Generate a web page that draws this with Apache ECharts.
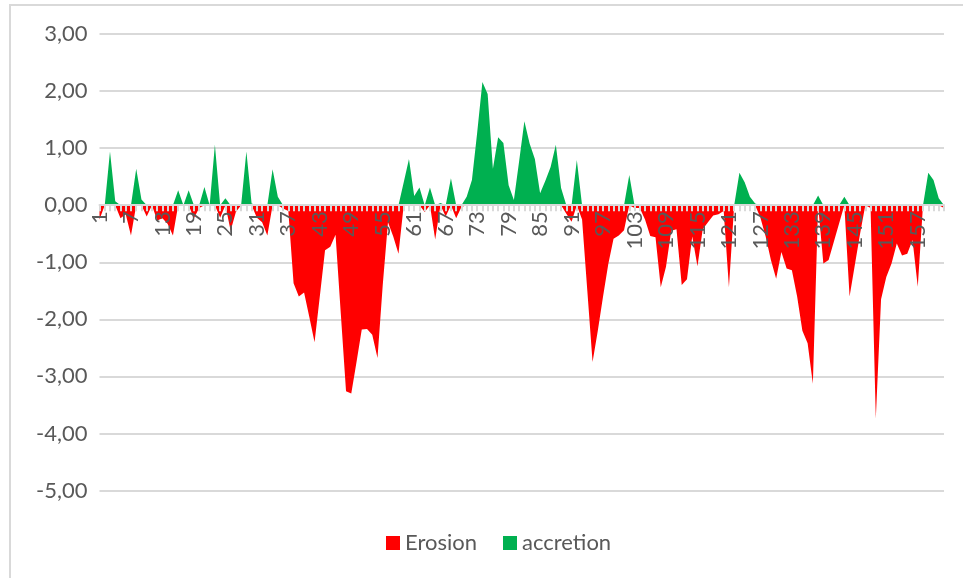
<!DOCTYPE html>
<html>
<head>
<meta charset="utf-8">
<script src="https://cdn.jsdelivr.net/npm/echarts@6/dist/echarts.min.js"></script>
<style>
  html, body { margin: 0; padding: 0; background: #ffffff; }
  #chart { width: 963px; height: 578px; }
</style>
</head>
<body>
<div id="chart"></div>
<script>
// Profile stations 1..162
const stationCount = 162;
const categories = Array.from({ length: stationCount }, (_, k) => String(k + 1));

// Erosion per station (negative values)
const erosion = [
  -0.25, 0, 0, 0, -0.23, -0.16, -0.53, 0, 0, -0.2,
  0, -0.27, -0.23, -0.33, -0.53, 0, 0, 0, -0.23, -0.05,
  0, 0, 0, -0.22, 0, -0.45, -0.12, 0, 0, 0,
  -0.22, -0.3, -0.53, 0, 0, -0.06, -0.1, -1.37, -1.6, -1.53,
  -1.96, -2.4, -1.6, -0.79, -0.73, -0.52, -1.9, -3.26, -3.3, -2.75,
  -2.18, -2.17, -2.27, -2.68, -1.4, -0.3, -0.55, -0.85, 0, 0,
  0, 0, -0.12, 0, -0.6, 0, -0.2, 0, -0.23, -0.03,
  0, 0, 0, 0, 0, 0, 0, 0, 0, 0,
  0, 0, 0, 0, 0, 0, 0, 0, 0, -0.15,
  -0.29, 0, -0.25, -1.5, -2.75, -2.2, -1.6, -1.03, -0.59, -0.53,
  -0.44, 0, -0.05, -0.05, -0.25, -0.54, -0.56, -1.44, -1.08, -0.45,
  -0.42, -1.4, -1.3, -0.55, -1.07, -0.42, -0.3, -0.18, -0.16, -0.1,
  -1.44, 0, 0, 0, 0, 0, -0.22, -0.55, -0.96, -1.29,
  -0.82, -1.11, -1.14, -1.6, -2.2, -2.42, -3.13, 0, -1.02, -0.96,
  -0.64, -0.32, 0, -1.6, -1.05, -0.5, 0, -0.05, -3.74, -1.65,
  -1.26, -1.02, -0.67, -0.88, -0.85, -0.61, -1.43, 0, 0, 0,
  0, -0.05
];

// Accretion per station (positive values)
const accretion = [
  0, 0, 0.94, 0.07, 0, 0, 0, 0.64, 0.1, 0,
  0, 0, 0, 0, 0, 0.26, 0, 0.26, 0, 0,
  0.32, 0, 1.06, 0, 0.12, 0, 0, 0, 0.94, 0.03,
  0, 0, 0, 0.63, 0.15, 0, 0, 0, 0, 0,
  0, 0, 0, 0, 0, 0, 0, 0, 0, 0,
  0, 0, 0, 0, 0, 0, 0, 0, 0.4, 0.81,
  0.16, 0.31, 0, 0.31, 0, 0.04, 0, 0.47, 0, 0,
  0.15, 0.44, 1.27, 2.16, 1.95, 0.64, 1.19, 1.09, 0.35, 0.09,
  0.77, 1.47, 1.08, 0.81, 0.21, 0.43, 0.67, 1.06, 0.3, 0,
  0, 0.79, 0, 0, 0, 0, 0, 0, 0, 0,
  0, 0.53, 0, 0, 0, 0, 0, 0, 0, 0,
  0, 0, 0, 0, 0, 0, 0, 0, 0, 0,
  0, 0, 0.57, 0.4, 0.15, 0.03, 0, 0, 0, 0,
  0, 0, 0, 0, 0, 0, 0, 0.17, 0, 0,
  0, 0, 0.15, 0, 0, 0, 0, 0, 0, 0,
  0, 0, 0, 0, 0, 0, 0, 0, 0.57, 0.44,
  0.12, 0
];

const yTicks = { min: -5, max: 3, step: 1 };
const seriesNames = ['Erosion', 'accretion'];
const seriesColors = ['#FF0000', '#00B050'];

const textColor = '#595959';
const lineColor = '#D9D9D9';
const fontFamily = 'Lato, sans-serif';

// Plot area geometry
const gridTop = 34;
const gridBottom = 87.5;
const chartHeight = 578;
const plotHeight = chartHeight - gridTop - gridBottom;
// distance from the bottom of the plot up to the value 0 line
const zeroLift = plotHeight * (0 - yTicks.min) / (yTicks.max - yTicks.min);

const chart = echarts.init(document.getElementById('chart'), null, { renderer: 'canvas' });

chart.setOption({
  animation: false,
  backgroundColor: '#ffffff',
  graphic: [{
    type: 'rect',
    shape: { x: 10, y: 5, width: 970, height: 590 },
    style: { fill: 'none', stroke: lineColor, lineWidth: 2 },
    silent: true,
    z: -1
  }],
  grid: { left: 99.5, right: 19, top: gridTop, bottom: gridBottom, containLabel: false },
  legend: {
    data: seriesNames,
    left: 381,
    top: 527,
    icon: 'rect',
    itemWidth: 14,
    itemHeight: 14,
    itemGap: 26,
    textStyle: { color: textColor, fontSize: 22, fontFamily: fontFamily }
  },
  xAxis: {
    type: 'category',
    data: categories,
    boundaryGap: false,
    z: 5,
    offset: -zeroLift,
    axisLine: { onZero: false, lineStyle: { color: lineColor, width: 2 } },
    axisTick: { show: true, interval: 0, length: 6, lineStyle: { color: lineColor, width: 2 } },
    axisLabel: {
      interval: 5,
      rotate: 90,
      margin: 6,
      color: textColor,
      fontSize: 22,
      fontFamily: fontFamily
    },
    splitLine: { show: false }
  },
  yAxis: {
    type: 'value',
    min: yTicks.min,
    max: yTicks.max,
    interval: yTicks.step,
    axisLine: { show: false },
    axisTick: { show: false },
    axisLabel: {
      margin: 12,
      color: textColor,
      fontSize: 22,
      fontFamily: fontFamily,
      formatter: v => v.toFixed(2).replace('.', ',')
    },
    splitLine: { lineStyle: { color: lineColor, width: 2 } }
  },
  series: [
    {
      name: seriesNames[0],
      type: 'line',
      data: erosion,
      symbol: 'none',
      color: seriesColors[0],
      lineStyle: { width: 0 },
      areaStyle: { color: seriesColors[0], opacity: 1 }
    },
    {
      name: seriesNames[1],
      type: 'line',
      data: accretion,
      symbol: 'none',
      color: seriesColors[1],
      lineStyle: { width: 0 },
      areaStyle: { color: seriesColors[1], opacity: 1 }
    }
  ]
});
</script>
</body>
</html>
